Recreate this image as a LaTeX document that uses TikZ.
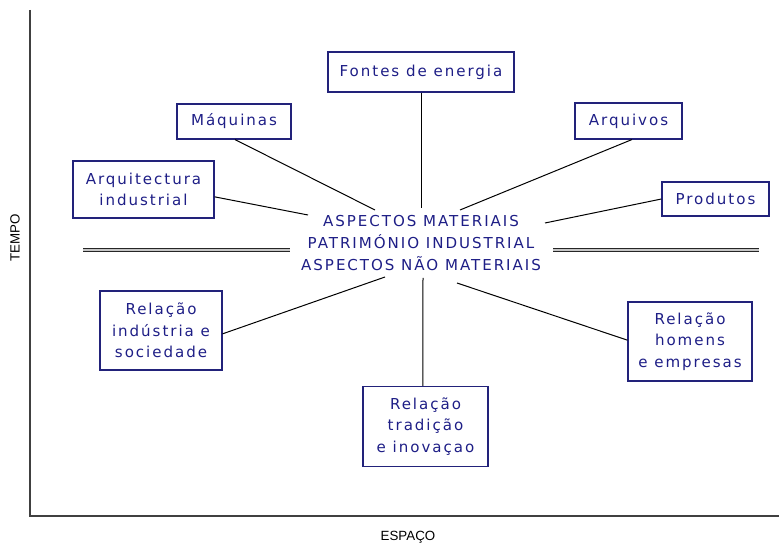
\documentclass[tikz,border=0pt]{standalone}
\usepackage{fontspec}
\newfontfamily\boxfont[LetterSpace=13]{DejaVu Sans}
\newfontfamily\axisfont{Liberation Sans}
\definecolor{navytext}{HTML}{1E1E86}
\definecolor{navyline}{HTML}{22227A}
\definecolor{axisgray}{HTML}{404040}
\tikzset{
	topic/.style={draw=navyline,line width=0.9pt,text=navytext,align=center,inner sep=0pt,
		font=\boxfont\fontsize{11.3}{16}\selectfont},
	spoke/.style={black,line width=0.75pt},
	band/.style={line width=0.7pt,draw=black!85,double=gray!45,double distance=1.2pt}
}
\begin{document}
\begin{tikzpicture}[x=0.75pt,y=-0.75pt]
			\useasboundingbox (0,0) rectangle (779,545);
			% eixos
			\draw[axisgray,line width=1.1pt] (30,10) -- (30,516) -- (779,516);
			\node[rotate=90,font=\axisfont\fontsize{10}{12}\selectfont] (tempo) at (15,238) {TEMPO};
			\node[font=\axisfont\fontsize{10}{12}\selectfont] (espaco) at (408,537) {ESPAÇO};
			% centro
			\node[text=navytext,align=center,font=\boxfont\fontsize{11.3}{16.5}\selectfont] (core) at (421,243)
				{ASPECTOS MATERIAIS\\PATRIMÓNIO INDUSTRIAL\\ASPECTOS NÃO MATERIAIS};
			\coordinate (bandL1) at (83,250); \coordinate (bandL2) at (290,250);
			\coordinate (bandR1) at (553,250); \coordinate (bandR2) at (759,250);
			\draw[band] (bandL1) -- (bandL2);
			\draw[band] (bandR1) -- (bandR2);
			% caixas
			\node[topic,minimum width=139.5pt,minimum height=30pt] (fontes) at (421,72) {Fontes de energia};
			\node[topic,minimum width=85.5pt,minimum height=26.25pt] (maquinas) at (234,121.5) {Máquinas};
			\node[topic,minimum width=80.25pt,minimum height=27pt] (arquivos) at (628.5,121) {Arquivos};
			\node[topic,minimum width=105.75pt,minimum height=42.75pt] (arquit) at (143.5,189.5) {Arquitectura\\industrial};
			\node[topic,minimum width=80.25pt,minimum height=25.5pt] (produtos) at (715.5,199) {Produtos};
			\node[topic,minimum width=91.5pt,minimum height=59.25pt] (industria) at (161,330.5) {Relação\\indústria e\\sociedade};
			\node[topic,minimum width=93pt,minimum height=59.25pt] (homens) at (690,341.5) {Relação\\homens\\e empresas};
			\node[topic,minimum width=93.75pt,minimum height=60pt] (tradicao) at (425.5,426.5) {Relação\\tradição\\e inovaçao};
			% pontas livres junto ao texto central
			\coordinate (fontesE) at (421,208);
			\coordinate (maquinasE) at (375,210);
			\coordinate (arquivosE) at (460,210);
			\coordinate (arquitE) at (308,215);
			\coordinate (produtosE) at (545,223);
			\coordinate (industriaE) at (385,277);
			\coordinate (homensE) at (457,283);
			\coordinate (tradicaoE) at (423,278);
			\draw[spoke] (fontes.south) -- (fontesE);
			\draw[spoke] ([xshift=0.75pt]maquinas.south) -- (maquinasE);
			\draw[spoke] ([xshift=2.5pt]arquivos.south) -- (arquivosE);
			\draw[spoke] ([yshift=-5.5pt]arquit.east) -- (arquitE);
			\draw[spoke] (produtos.west) -- (produtosE);
			\draw[spoke] ([yshift=-2.5pt]industria.east) -- (industriaE);
			\draw[spoke] ([yshift=1pt]homens.west) -- (homensE);
			\draw[spoke] ([xshift=-2pt]tradicao.north) -- (tradicaoE);
\end{tikzpicture}
\end{document}
